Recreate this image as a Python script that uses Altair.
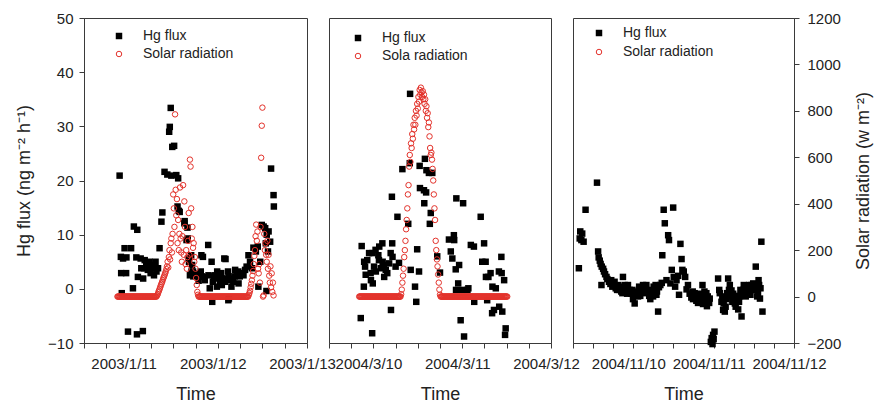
import altair as alt
import pandas as pd

FONT = "Liberation Sans"
INK = "#222222"
FRAME = "#3a3a3a"
RED = "#e3322b"

HG_TITLE = "Hg flux (ng m\u207b\u00b2 h\u207b\u00b9)"
SR_TITLE = "Solar radiation (w m\u207b\u00b2)"
HG_TICKS = [-10, 0, 10, 20, 30, 40, 50]
SR_TICKS = [-200, 0, 200, 400, 600, 800, 1000, 1200]

# ---------------- Panel 1: January 2003 ----------------
P1_DOMAIN = ("2003-01-10 12:00", "2003-01-13 00:00")
P1_HG = [
    ("2003-01-10 21:35", 20.9), ("2003-01-10 21:55", 5.9), ("2003-01-10 22:00", 2.9),
    ("2003-01-10 22:10", -0.8), ("2003-01-10 22:30", 5.6), ("2003-01-10 22:55", 7.5),
    ("2003-01-10 23:20", 2.9), ("2003-01-10 23:25", 5.8), ("2003-01-10 23:50", -7.9),
    ("2003-01-11 00:40", 7.5), ("2003-01-11 01:10", 0.1), ("2003-01-11 01:25", 11.5),
    ("2003-01-11 02:05", 5.8), ("2003-01-11 02:15", -8.4), ("2003-01-11 02:20", 10.9),
    ("2003-01-11 02:30", 2.2), ("2003-01-11 03:15", 5.6), ("2003-01-11 03:25", 3.8),
    ("2003-01-11 03:50", -7.8), ("2003-01-11 03:55", 1.9), ("2003-01-11 04:10", 3.8),
    ("2003-01-11 04:20", 5.3), ("2003-01-11 04:45", 4.4), ("2003-01-11 05:10", 3.5),
    ("2003-01-11 05:40", 5.0), ("2003-01-11 05:55", 2.9), ("2003-01-11 06:05", 4.1),
    ("2003-01-11 06:35", 3.8), ("2003-01-11 06:50", 2.5), ("2003-01-11 07:00", 4.4),
    ("2003-01-11 07:15", 5.0), ("2003-01-11 07:30", 3.2), ("2003-01-11 07:55", 3.8),
    ("2003-01-11 08:20", 7.5), ("2003-01-11 08:50", 12.4), ("2003-01-11 09:05", 14.1),
    ("2003-01-11 09:40", 21.6), ("2003-01-11 10:25", 21.1), ("2003-01-11 10:55", 29.0),
    ("2003-01-11 11:05", 29.9), ("2003-01-11 11:20", 33.4), ("2003-01-11 11:30", 20.9),
    ("2003-01-11 11:45", 26.2), ("2003-01-11 12:15", 26.4), ("2003-01-11 12:50", 21.0),
    ("2003-01-11 13:10", 15.2), ("2003-01-11 13:20", 20.4), ("2003-01-11 13:30", 14.4),
    ("2003-01-11 13:45", 14.2), ("2003-01-11 15:00", 12.1), ("2003-01-11 15:05", 12.5),
    ("2003-01-11 15:35", 9.0), ("2003-01-11 15:50", 11.3), ("2003-01-11 15:55", 9.3),
    ("2003-01-11 16:10", 5.6), ("2003-01-11 16:15", 5.0), ("2003-01-11 16:30", 2.5),
    ("2003-01-11 16:50", 6.2), ("2003-01-11 16:55", 3.2), ("2003-01-11 17:05", 4.4),
    ("2003-01-11 17:20", 3.2), ("2003-01-11 17:25", 2.3), ("2003-01-11 17:50", 2.6),
    ("2003-01-11 18:20", 2.8), ("2003-01-11 18:50", 1.5), ("2003-01-11 19:25", 3.2),
    ("2003-01-11 19:35", 6.2), ("2003-01-11 19:40", 2.3), ("2003-01-11 20:00", 5.9),
    ("2003-01-11 20:05", 2.2), ("2003-01-11 20:30", 1.6), ("2003-01-11 21:25", 8.1),
    ("2003-01-11 21:30", 2.5), ("2003-01-11 21:50", 0.1), ("2003-01-11 22:20", 5.0),
    ("2003-01-11 22:30", -2.4), ("2003-01-11 22:40", 1.3), ("2003-01-11 22:55", 2.3),
    ("2003-01-11 23:15", 2.5), ("2003-01-11 23:40", 1.9), ("2003-01-11 23:45", 0.4),
    ("2003-01-11 23:50", 3.2), ("2003-01-12 00:10", 2.3), ("2003-01-12 00:35", 1.3),
    ("2003-01-12 00:55", 2.9), ("2003-01-12 01:00", 1.9), ("2003-01-12 01:05", 0.7),
    ("2003-01-12 01:30", 1.6), ("2003-01-12 01:45", 5.6), ("2003-01-12 01:55", 1.3),
    ("2003-01-12 02:05", 5.5), ("2003-01-12 02:25", 1.9), ("2003-01-12 02:45", 3.2),
    ("2003-01-12 02:50", -2.1), ("2003-01-12 02:55", 2.3), ("2003-01-12 03:00", -1.8),
    ("2003-01-12 03:15", 1.6), ("2003-01-12 03:40", 0.4), ("2003-01-12 03:45", 1.9),
    ("2003-01-12 04:10", 1.3), ("2003-01-12 04:35", 2.3), ("2003-01-12 04:40", 3.5),
    ("2003-01-12 05:05", 2.5), ("2003-01-12 05:30", 3.2), ("2003-01-12 05:35", 1.0),
    ("2003-01-12 05:55", 2.3), ("2003-01-12 06:25", 2.9), ("2003-01-12 06:55", 2.5),
    ("2003-01-12 07:20", 3.5), ("2003-01-12 07:45", 4.1), ("2003-01-12 08:15", 6.2),
    ("2003-01-12 08:40", 5.0), ("2003-01-12 09:10", 3.8), ("2003-01-12 09:35", 7.6),
    ("2003-01-12 10:15", 6.9), ("2003-01-12 10:45", 7.8), ("2003-01-12 10:55", 0.4),
    ("2003-01-12 11:25", 5.0), ("2003-01-12 11:50", 11.8), ("2003-01-12 12:20", 11.5),
    ("2003-01-12 12:45", 11.2), ("2003-01-12 12:55", 8.4), ("2003-01-12 13:05", -0.4),
    ("2003-01-12 13:10", 10.0), ("2003-01-12 13:30", 6.9), ("2003-01-12 13:40", 10.6),
    ("2003-01-12 14:05", 8.7), ("2003-01-12 14:20", 22.2), ("2003-01-12 15:00", 17.3),
    ("2003-01-12 15:05", 15.2),
]

# Solar radiation, 10-minute records (W m-2)
P1_SR_NIGHT1 = [
    0, 0, 0, 0, 0, 0, 0, 0, 0, 0, 0, 0, 0, 0, 0, 0,
    0, 0, 0, 0, 0, 0, 0, 0, 0, 0, 0, 0, 0, 0, 0, 0,
    0, 0, 0, 0, 0, 0, 0, 0, 0, 0, 0, 0, 0, 0, 0, 0,
    0, 0, 0, 0, 0, 0, 0, 0, 0, 0, 0, 0, 0, 0, 0, 0,
]
P1_SR_DAY1 = [
    5, 10,
    18, 25, 32, 40, 48, 55,
    62, 70, 78, 85, 92, 100,
    108, 118, 130, 150, 125, 170,
    200, 160, 230, 250, 190, 270,
    440, 380, 300, 785, 460, 350,
    420, 230, 330, 200, 270, 470,
    250, 190, 150, 260, 480, 180,
    410, 300, 140, 200, 120, 170,
    240, 360, 180, 590, 560, 380,
    250, 300, 210, 230, 150, 170,
    120, 80, 50, 20, 8,
]
P1_SR_NIGHT2 = [
    0, 0, 0, 0, 0, 0, 0, 0, 0, 0, 0, 0, 0, 0, 0, 0,
    0, 0, 0, 0, 0, 0, 0, 0, 0, 0, 0, 0, 0, 0, 0, 0,
    0, 0, 0, 0, 0, 0, 0, 0, 0, 0, 0, 0, 0, 0, 0, 0,
    0, 0, 0, 0, 0, 0, 0, 0, 0, 0, 0, 0, 0, 0, 0, 0,
    0, 0, 0, 0, 0, 0, 0, 0, 0, 0, 0, 0, 0, 0, 0, 0,
    0,
]
P1_SR_DAY2 = [
    8, 15, 25, 40,
    55, 70, 90, 110, 140, 175,
    200, 260, 310, 240, 280, 120,
    100, 140, 60, 300, 598, 736,
    814, 0, 5, 270, 200, 230,
    180, 150, 240, 120, 180, 90,
    60, 130, 40, 100, 20, 60,
    5,
]
P1_SR = [
    ("2003-01-10 21:00", P1_SR_NIGHT1),
    ("2003-01-11 07:40", P1_SR_DAY1),
    ("2003-01-11 18:50", P1_SR_NIGHT2),
    ("2003-01-12 08:20", P1_SR_DAY2),
]

# ---------------- Panel 2: March 2004 ----------------
P2_DOMAIN = ("2004-03-09 12:00", "2004-03-12 00:00")
P2_HG = [
    ("2004-03-09 20:35", -5.4), ("2004-03-09 20:50", 7.9), ("2004-03-09 21:25", 0.4),
    ("2004-03-09 21:30", 5.0), ("2004-03-09 21:45", 4.1), ("2004-03-09 21:55", 2.6),
    ("2004-03-09 22:20", 5.3), ("2004-03-09 22:50", 6.6), ("2004-03-09 23:15", 2.9),
    ("2004-03-09 23:20", 1.6), ("2004-03-09 23:40", -8.2), ("2004-03-09 23:45", 6.6),
    ("2004-03-09 23:50", 1.0), ("2004-03-10 00:10", 4.1), ("2004-03-10 00:35", 7.2),
    ("2004-03-10 00:40", 3.2), ("2004-03-10 01:20", 6.2), ("2004-03-10 01:30", 5.3),
    ("2004-03-10 01:35", 7.8), ("2004-03-10 02:00", 3.8), ("2004-03-10 02:25", 8.4),
    ("2004-03-10 02:30", 5.0), ("2004-03-10 02:50", 4.4), ("2004-03-10 02:55", 2.2),
    ("2004-03-10 03:20", 3.5), ("2004-03-10 03:45", 2.9), ("2004-03-10 04:15", 4.7),
    ("2004-03-10 04:40", 6.6), ("2004-03-10 04:45", -3.9), ("2004-03-10 05:00", 17.0),
    ("2004-03-10 05:05", 8.4), ("2004-03-10 05:10", 5.9), ("2004-03-10 06:00", 4.1),
    ("2004-03-10 06:30", 13.3), ("2004-03-10 06:55", 4.8), ("2004-03-10 07:50", 22.1),
    ("2004-03-10 09:25", 12.0), ("2004-03-10 09:50", 23.2), ("2004-03-10 09:55", 36.0),
    ("2004-03-10 10:05", 3.5), ("2004-03-10 11:15", 0.4), ("2004-03-10 11:35", -2.4),
    ("2004-03-10 11:50", 7.3), ("2004-03-10 12:20", 3.2), ("2004-03-10 12:30", 22.7),
    ("2004-03-10 12:35", 18.6), ("2004-03-10 13:40", 18.2), ("2004-03-10 13:45", 15.8),
    ("2004-03-10 13:55", 24.0), ("2004-03-10 14:15", 17.8), ("2004-03-10 14:20", 21.9),
    ("2004-03-10 15:00", 21.4), ("2004-03-10 15:15", 12.0), ("2004-03-10 15:30", 14.0),
    ("2004-03-10 15:55", 21.4), ("2004-03-10 17:15", 6.0), ("2004-03-10 18:00", 3.0),
    ("2004-03-10 20:25", 9.1), ("2004-03-10 20:55", 6.9), ("2004-03-10 21:20", 5.6),
    ("2004-03-10 21:45", 9.9), ("2004-03-10 21:50", 9.0), ("2004-03-10 22:15", 3.6),
    ("2004-03-10 22:20", -0.2), ("2004-03-10 22:25", 16.7), ("2004-03-10 22:55", 1.0),
    ("2004-03-10 23:10", 4.4), ("2004-03-10 23:35", -5.8), ("2004-03-11 00:00", -0.2),
    ("2004-03-11 00:15", 15.8), ("2004-03-11 00:30", -8.8), ("2004-03-11 01:25", -0.2),
    ("2004-03-11 01:40", 0.1), ("2004-03-11 02:20", 8.1), ("2004-03-11 03:10", 7.8),
    ("2004-03-11 03:15", -2.4), ("2004-03-11 05:00", 13.3), ("2004-03-11 05:25", 5.0),
    ("2004-03-11 05:55", 8.4), ("2004-03-11 06:20", 5.0), ("2004-03-11 06:25", 2.2),
    ("2004-03-11 06:45", -2.1), ("2004-03-11 07:05", 2.2), ("2004-03-11 07:40", 2.9),
    ("2004-03-11 08:05", -4.5), ("2004-03-11 08:10", 0.4), ("2004-03-11 08:35", -3.9),
    ("2004-03-11 09:05", 0.1), ("2004-03-11 09:55", 3.2), ("2004-03-11 10:00", -3.3),
    ("2004-03-11 10:35", 5.9), ("2004-03-11 10:40", 2.9), ("2004-03-11 10:50", -4.2),
    ("2004-03-11 11:20", 1.6), ("2004-03-11 11:35", -8.5), ("2004-03-11 11:45", -7.3),
]
P2_SR_NIGHT1 = [
    0, 0, 0, 0, 0, 0, 0, 0, 0, 0, 0, 0, 0, 0, 0, 0,
    0, 0, 0, 0, 0, 0, 0, 0, 0, 0, 0, 0, 0, 0, 0, 0,
    0, 0, 0, 0, 0, 0, 0, 0, 0, 0, 0, 0, 0, 0, 0, 0,
    0, 0, 0, 0, 0, 0, 0, 0, 0, 0, 0, 0, 0, 0, 0, 0,
    0, 0, 0, 0,
]
P2_SR_DAY = [
    10, 30, 60,
    90, 120, 170, 200, 240, 290,
    330, 380, 440, 480, 560, 610,
    580, 660, 640, 700, 680, 740,
    720, 770, 740, 800, 780, 830,
    810, 860, 840, 890, 870, 900,
    880, 860, 885, 850, 870, 830,
    850, 800, 820, 770, 790, 730,
    750, 690, 640, 610, 620, 590,
    550, 500, 440, 380, 330, 240,
    200, 160, 130, 95, 60, 30,
    8,
]
P2_SR_NIGHT2 = [
    0, 0, 0, 0, 0, 0, 0, 0, 0, 0, 0, 0, 0, 0, 0, 0,
    0, 0, 0, 0, 0, 0, 0, 0, 0, 0, 0, 0, 0, 0, 0, 0,
    0, 0, 0, 0, 0, 0, 0, 0, 0, 0, 0, 0, 0, 0, 0, 0,
    0, 0, 0, 0, 0, 0, 0, 0, 0, 0, 0, 0, 0, 0, 0, 0,
    0, 0, 0, 0, 0, 0, 0, 0, 0, 0, 0, 0, 0, 0, 0, 0,
    0, 0, 0, 0, 0, 0, 0, 0, 0, 0, 0, 0, 0, 0, 0, 0,
    0, 0, 0, 0, 0, 0, 0, 0, 0, 0, 0, 0, 0,
]
P2_SR = [
    ("2004-03-09 20:10", P2_SR_NIGHT1),
    ("2004-03-10 07:30", P2_SR_DAY),
    ("2004-03-10 18:10", P2_SR_NIGHT2),
]

# ---------------- Panel 3: November 2004 ----------------
P3_DOMAIN = ("2004-11-09 06:00", "2004-11-12 00:00")
P3_HG = [
    ("2004-11-09 07:45", 3.8), ("2004-11-09 08:00", 9.3), ("2004-11-09 08:10", 10.6),
    ("2004-11-09 08:30", 9.0), ("2004-11-09 08:45", 10.2), ("2004-11-09 09:10", 8.7),
    ("2004-11-09 09:45", 14.6), ("2004-11-09 13:10", 19.6), ("2004-11-09 13:30", 6.9),
    ("2004-11-09 13:40", 5.8), ("2004-11-09 14:00", 5.2), ("2004-11-09 14:15", 4.6),
    ("2004-11-09 14:30", 0.7), ("2004-11-09 14:35", 4.1), ("2004-11-09 15:00", 3.7),
    ("2004-11-09 15:15", 3.2), ("2004-11-09 15:35", 2.7), ("2004-11-09 16:00", 2.2),
    ("2004-11-09 16:15", 1.8), ("2004-11-09 16:45", 1.3), ("2004-11-09 17:10", 0.9),
    ("2004-11-09 17:25", 1.6), ("2004-11-09 17:45", 0.4), ("2004-11-09 18:10", 1.0),
    ("2004-11-09 18:25", 1.3), ("2004-11-09 18:45", 0.1), ("2004-11-09 19:10", -0.2),
    ("2004-11-09 19:25", 0.7), ("2004-11-09 19:55", -0.2), ("2004-11-09 20:10", 0.4),
    ("2004-11-09 20:25", -0.5), ("2004-11-09 20:45", -0.8), ("2004-11-09 20:55", 2.2),
    ("2004-11-09 21:10", 0.3), ("2004-11-09 21:25", 0.7), ("2004-11-09 21:45", -0.1),
    ("2004-11-09 22:10", -0.9), ("2004-11-09 22:25", 0.7), ("2004-11-09 22:45", -0.7),
    ("2004-11-09 22:55", -0.2), ("2004-11-09 23:25", -0.9), ("2004-11-09 23:45", -0.2),
    ("2004-11-09 23:55", -1.9), ("2004-11-10 00:10", -0.9), ("2004-11-10 00:25", -2.7),
    ("2004-11-10 00:45", -0.8), ("2004-11-10 01:05", -0.5), ("2004-11-10 01:25", -1.4),
    ("2004-11-10 01:45", 0.4), ("2004-11-10 01:55", -0.3), ("2004-11-10 02:05", -1.3),
    ("2004-11-10 02:25", 0.1), ("2004-11-10 02:45", -0.7), ("2004-11-10 02:55", 0.7),
    ("2004-11-10 03:15", -0.2), ("2004-11-10 03:25", -0.8), ("2004-11-10 03:45", 0.3),
    ("2004-11-10 03:55", 0.7), ("2004-11-10 04:05", -0.7), ("2004-11-10 04:25", -0.2),
    ("2004-11-10 04:45", -1.3), ("2004-11-10 05:05", -1.9), ("2004-11-10 05:25", -0.3),
    ("2004-11-10 05:45", -0.9), ("2004-11-10 05:55", -1.4), ("2004-11-10 06:05", 0.4),
    ("2004-11-10 06:30", -0.3), ("2004-11-10 06:40", 0.7), ("2004-11-10 06:55", -1.1),
    ("2004-11-10 07:05", -0.5), ("2004-11-10 07:25", -4.2), ("2004-11-10 07:40", 0.3),
    ("2004-11-10 08:05", 0.7), ("2004-11-10 08:30", 1.1), ("2004-11-10 08:40", 6.2),
    ("2004-11-10 09:05", 14.6), ("2004-11-10 09:25", 12.1), ("2004-11-10 09:55", 1.6),
    ("2004-11-10 10:25", 9.9), ("2004-11-10 10:40", 9.0), ("2004-11-10 11:05", 1.0),
    ("2004-11-10 11:30", 3.5), ("2004-11-10 11:55", 15.0), ("2004-11-10 12:05", 2.2),
    ("2004-11-10 12:30", 0.4), ("2004-11-10 12:55", 1.6), ("2004-11-10 13:25", 2.4),
    ("2004-11-10 13:40", -1.1), ("2004-11-10 14:05", 8.3), ("2004-11-10 14:25", 5.5),
    ("2004-11-10 14:40", 3.5), ("2004-11-10 15:05", 3.2), ("2004-11-10 15:30", 2.2),
    ("2004-11-10 15:55", -0.1), ("2004-11-10 16:20", 0.7), ("2004-11-10 16:50", -0.9),
    ("2004-11-10 17:20", -1.6), ("2004-11-10 17:45", -0.5), ("2004-11-10 17:50", -1.9),
    ("2004-11-10 18:20", -0.8), ("2004-11-10 18:40", -1.4), ("2004-11-10 18:50", -2.2),
    ("2004-11-10 19:20", -2.6), ("2004-11-10 19:40", -0.9), ("2004-11-10 19:50", -1.4),
    ("2004-11-10 20:15", -2.4), ("2004-11-10 20:40", 0.7), ("2004-11-10 20:50", -2.8),
    ("2004-11-10 21:00", -1.4), ("2004-11-10 21:15", -0.5), ("2004-11-10 21:40", -1.9),
    ("2004-11-10 21:50", -0.8), ("2004-11-10 22:00", -3.2), ("2004-11-10 22:15", -1.4),
    ("2004-11-10 22:25", -2.4), ("2004-11-10 22:40", -2.6), ("2004-11-10 22:50", -1.8),
    ("2004-11-10 23:10", -9.8), ("2004-11-10 23:25", -9.1), ("2004-11-10 23:40", -10.2),
    ("2004-11-10 23:50", -8.5), ("2004-11-11 00:00", -9.3), ("2004-11-11 00:15", -7.9),
    ("2004-11-11 01:20", 1.9), ("2004-11-11 01:40", -0.2), ("2004-11-11 01:50", -0.8),
    ("2004-11-11 02:20", -2.4), ("2004-11-11 02:35", -1.4), ("2004-11-11 02:50", -3.9),
    ("2004-11-11 03:00", -2.7), ("2004-11-11 03:20", -4.2), ("2004-11-11 03:35", -3.3),
    ("2004-11-11 03:50", -1.9), ("2004-11-11 04:00", -0.8), ("2004-11-11 04:20", 1.9),
    ("2004-11-11 04:35", -0.2), ("2004-11-11 04:50", 0.7), ("2004-11-11 05:00", -1.4),
    ("2004-11-11 05:20", -0.3), ("2004-11-11 05:35", -2.4), ("2004-11-11 05:50", -0.9),
    ("2004-11-11 06:00", -1.8), ("2004-11-11 06:20", -2.7), ("2004-11-11 06:35", -3.3),
    ("2004-11-11 06:50", -2.4), ("2004-11-11 07:00", -1.3), ("2004-11-11 07:20", -3.8),
    ("2004-11-11 07:35", -2.4), ("2004-11-11 07:50", -1.4), ("2004-11-11 08:00", -0.2),
    ("2004-11-11 08:20", -5.1), ("2004-11-11 08:35", -1.1), ("2004-11-11 08:50", -0.2),
    ("2004-11-11 09:00", 0.7), ("2004-11-11 09:20", -0.7), ("2004-11-11 09:35", -1.4),
    ("2004-11-11 09:50", 0.5), ("2004-11-11 10:00", -0.8), ("2004-11-11 10:20", -0.3),
    ("2004-11-11 10:35", 0.7), ("2004-11-11 10:50", 0.4), ("2004-11-11 11:00", -1.1),
    ("2004-11-11 11:20", 0.7), ("2004-11-11 11:35", -0.2), ("2004-11-11 11:50", 1.0),
    ("2004-11-11 12:00", 0.4), ("2004-11-11 12:20", 0.1), ("2004-11-11 12:35", 4.1),
    ("2004-11-11 12:45", -0.2), ("2004-11-11 13:00", -1.4), ("2004-11-11 13:15", -0.8),
    ("2004-11-11 13:25", 1.6), ("2004-11-11 13:35", 0.7), ("2004-11-11 13:50", -1.8),
    ("2004-11-11 14:00", 0.1), ("2004-11-11 14:15", 8.7), ("2004-11-11 14:35", -4.2),
]


def ms(stamp):
    return int(pd.Timestamp(stamp, tz="UTC").value // 1_000_000)


def hg_frame(pairs):
    return pd.DataFrame({"t": [ms(s) for s, _ in pairs], "hg": [v for _, v in pairs]})


def sr_frame(segments):
    times, values = [], []
    for start, vals in segments:
        stamps = pd.date_range(pd.Timestamp(start, tz="UTC"), periods=len(vals), freq="10min")
        times += [int(s.value // 1_000_000) for s in stamps]
        values += list(vals)
    return pd.DataFrame({"t": times, "sr": values})


LABEL_EXPR = "utchours(datum.value) == 0 ? utcFormat(datum.value, '%Y/%-m/%-d') : ''"


def panel(hg_pairs, sr_segments, domain, width, hg_axis, sr_axis, legend, sr_label):
    t0, t1 = ms(domain[0]), ms(domain[1])
    ticks = list(range(t0, t1 + 1, 6 * 3600 * 1000))
    x = alt.X(
        "t:T",
        scale=alt.Scale(type="utc", domain=[t0, t1], nice=False),
        axis=alt.Axis(
            values=ticks, labelExpr=LABEL_EXPR, title="Time", labelFlush=False,
            labelOverlap=False, labelPadding=8, titlePadding=14, labelOffset=-5,
        ),
    )
    hg_scale = alt.Scale(domain=[-10, 50], nice=False, zero=False)
    sr_scale = alt.Scale(domain=[-200, 1200], nice=False, zero=False)

    layers = [
        alt.Chart(hg_frame(hg_pairs)).mark_square(size=42, color="black", opacity=1).encode(
            x=x, y=alt.Y("hg:Q", scale=hg_scale, axis=hg_axis)
        )
    ]
    if sr_segments:
        layers.append(
            alt.Chart(sr_frame(sr_segments)).mark_point(
                shape="circle", filled=False, size=30, strokeWidth=1, color=RED, opacity=1
            ).encode(x=x, y=alt.Y("sr:Q", scale=sr_scale, axis=None))
        )
    if sr_axis is not None:
        layers.append(
            alt.Chart(pd.DataFrame({"sr": SR_TICKS})).mark_point(opacity=0).encode(
                y=alt.Y("sr:Q", scale=sr_scale, axis=sr_axis)
            )
        )

    lx, ly1, ly2, tx = legend
    leg = pd.DataFrame({"hg_label": ["Hg flux"], "sr_label": [sr_label]})
    layers += [
        alt.Chart(leg).mark_square(size=42, color="black", opacity=1).encode(
            x=alt.value(lx), y=alt.value(ly1)
        ),
        alt.Chart(leg).mark_point(
            shape="circle", filled=False, size=30, strokeWidth=1, color=RED, opacity=1
        ).encode(x=alt.value(lx), y=alt.value(ly2)),
        alt.Chart(leg).mark_text(
            align="left", baseline="middle", font=FONT, fontSize=14, color=INK
        ).encode(x=alt.value(tx), y=alt.value(ly1), text="hg_label:N"),
        alt.Chart(leg).mark_text(
            align="left", baseline="middle", font=FONT, fontSize=14, color=INK
        ).encode(x=alt.value(tx), y=alt.value(ly2), text="sr_label:N"),
    ]
    return alt.layer(*layers).resolve_scale(y="independent").properties(width=width, height=325)


hg_left = alt.Axis(values=HG_TICKS, title=HG_TITLE, orient="left", labelPadding=6, titlePadding=14)
sr_right = alt.Axis(
    values=SR_TICKS, title=SR_TITLE, orient="right", labelPadding=8, titlePadding=32,
    titleAngle=270, format="d",
)

p1 = panel(P1_HG, P1_SR, P1_DOMAIN, 223, hg_left, None, (35, 18, 36, 59), "Solar radiation")
p2 = panel(P2_HG, P2_SR, P2_DOMAIN, 222, None, None, (29, 20, 38, 53), "Sola radiation")
p3 = panel(P3_HG, [], P3_DOMAIN, 221, None, sr_right, (26, 15, 34, 50), "Solar radiation")

chart = (
    alt.hconcat(p1, p2, p3, spacing=22, bounds="flush")
    .properties(
        padding={"left": 15, "top": 10, "right": 0, "bottom": 5},
        background="white",
    )
    .configure_view(stroke=FRAME, strokeWidth=1)
    .configure_axis(
        domainColor=FRAME, tickColor=FRAME, labelFont=FONT, titleFont=FONT,
        labelColor=INK, titleColor=INK, labelFontSize=15, titleFontSize=18,
        titleFontWeight="normal", grid=False, tickSize=5,
    )
)

chart.save("out.html", embed_options={"renderer": "svg", "actions": False})
